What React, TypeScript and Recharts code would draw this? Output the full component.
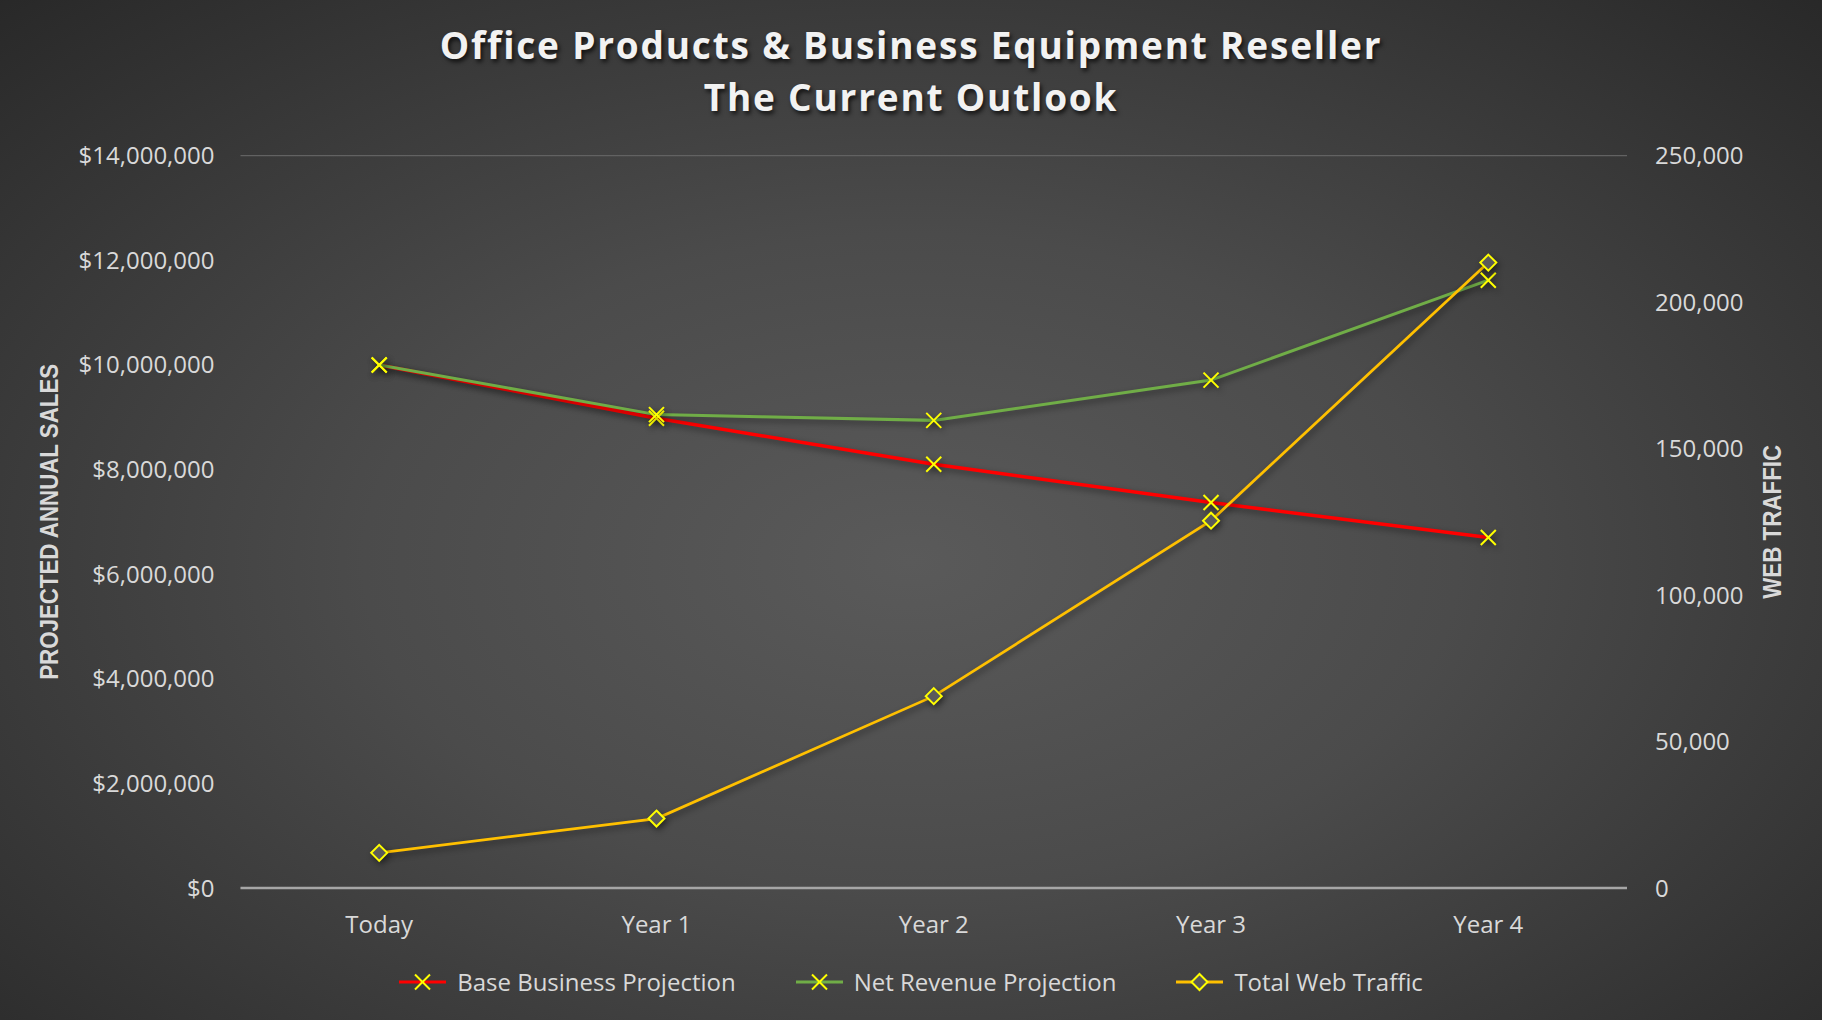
import React from 'react';
import {
  ComposedChart,
  Line,
  XAxis,
  YAxis,
  CartesianGrid,
  Label,
} from 'recharts';

const categories = ['Today', 'Year 1', 'Year 2', 'Year 3', 'Year 4'];
const baseBusiness = [10000000, 8980000, 8100000, 7370000, 6700000];
const netRevenue = [10000000, 9050000, 8940000, 9710000, 11620000];
const webTraffic = [12000, 23700, 65500, 125400, 213500];

const salesTicks = [0, 2000000, 4000000, 6000000, 8000000, 10000000, 12000000, 14000000];
const trafficTicks = [0, 50000, 100000, 150000, 200000, 250000];

const data = categories.map((name, i) => ({
  name,
  base: baseBusiness[i],
  net: netRevenue[i],
  web: webTraffic[i],
}));

const series = [
  { key: 'base', name: 'Base Business Projection', color: '#ff0000', width: 3.5, marker: 'x' },
  { key: 'net', name: 'Net Revenue Projection', color: '#70ad47', width: 3, marker: 'x' },
  { key: 'web', name: 'Total Web Traffic', color: '#ffc000', width: 2.75, marker: 'diamond' },
];

const MARKER = '#ffff00';
const TEXT = '#d9d9d9';
const FONT = '"Open Sans", sans-serif';

const XMark = ({ cx, cy }: any) => {
  if (cx == null || cy == null) return null;
  const r = 7.5;
  return (
    <g>
      <line x1={cx - r} y1={cy - r} x2={cx + r} y2={cy + r} stroke={MARKER} strokeWidth={2} />
      <line x1={cx - r} y1={cy + r} x2={cx + r} y2={cy - r} stroke={MARKER} strokeWidth={2} />
    </g>
  );
};

const Diamond = ({ cx, cy }: any) => {
  if (cx == null || cy == null) return null;
  const r = 8;
  return (
    <polygon
      points={`${cx},${cy - r} ${cx + r},${cy} ${cx},${cy + r} ${cx - r},${cy}`}
      fill="#5a5a5a"
      stroke={MARKER}
      strokeWidth={2}
    />
  );
};

const LegendIcon = ({ color, marker }: { color: string; marker: string }) => (
  <svg width={47} height={20} style={{ overflow: 'visible' }}>
    <line x1={0} y1={10} x2={47} y2={10} stroke={color} strokeWidth={3} />
    {marker === 'x' ? <XMark cx={23.5} cy={10} /> : <Diamond cx={23.5} cy={10} />}
  </svg>
);

const AxisTitle = ({ viewBox, value, dx, length }: any) => {
  const x = viewBox.x + dx;
  const y = viewBox.y + viewBox.height / 2;
  return (
    <text
      x={x}
      y={y}
      transform={`rotate(-90, ${x}, ${y})`}
      textAnchor="middle"
      dominantBaseline="central"
      fill={TEXT}
      fontFamily='"Liberation Sans Narrow", "Arial Narrow", sans-serif'
      fontWeight="bold"
      fontSize={25}
      textLength={length}
      lengthAdjust="spacingAndGlyphs"
    >
      {value}
    </text>
  );
};

export default function App() {
  return (
    <div
      style={{
        position: 'relative',
        width: 1822,
        height: 1020,
        overflow: 'hidden',
        background: 'radial-gradient(ellipse 75% 80% at 50% 55%, #5a5a5a 0%, #4b4b4b 40%, #262626 100%)',
        fontFamily: FONT,
      }}
    >
      <style>{`
        body { margin: 0; }
        .recharts-line-curve { filter: drop-shadow(2px 3px 3px rgba(0,0,0,0.45)); }
        .recharts-line-dots { filter: drop-shadow(2px 3px 3px rgba(0,0,0,0.45)); }
      `}</style>

      <div
        style={{
          position: 'absolute',
          top: 19,
          left: 0,
          width: 1822,
          textAlign: 'center',
          color: '#f2f2f2',
          fontWeight: 700,
          fontSize: 37,
          lineHeight: '52px',
          letterSpacing: 1.8,
          textShadow: '2px 3px 4px rgba(0,0,0,0.7)',
        }}
      >
        <div>Office Products &amp; Business Equipment Reseller</div>
        <div>The Current Outlook</div>
      </div>

      <ComposedChart
        width={1822}
        height={1020}
        data={data}
        margin={{ top: 155.7, right: 95, bottom: 72, left: 140.5 }}
      >
        <CartesianGrid vertical={false} stroke="#626262" strokeWidth={1.2} />
        <XAxis
          dataKey="name"
          height={60}
          padding={{ left: 138.7, right: 138.7 }}
          tickSize={0}
          tickMargin={28}
          axisLine={{ stroke: '#a6a6a6', strokeWidth: 2.5 }}
          tick={{ fill: TEXT, fontSize: 24, fontFamily: FONT }}
        />
        <YAxis
          yAxisId="sales"
          orientation="left"
          width={100}
          domain={[0, 14000000]}
          ticks={salesTicks}
          tickSize={0}
          tickMargin={26}
          axisLine={false}
          tick={{ fill: TEXT, fontSize: 24, fontFamily: FONT }}
          tickFormatter={(v: number) => '$' + v.toLocaleString('en-US')}
        >
          <Label content={(p: any) => <AxisTitle {...p} value="PROJECTED ANNUAL SALES" dx={-91.5} length={316} />} />
        </YAxis>
        <YAxis
          yAxisId="traffic"
          orientation="right"
          width={100}
          domain={[0, 250000]}
          ticks={trafficTicks}
          tickSize={0}
          tickMargin={28}
          axisLine={false}
          tick={{ fill: TEXT, fontSize: 24, fontFamily: FONT, textAnchor: 'start' }}
          tickFormatter={(v: number) => v.toLocaleString('en-US')}
        >
          <Label content={(p: any) => <AxisTitle {...p} value="WEB TRAFFIC" dx={145} length={154} />} />
        </YAxis>

        {series.map((s) => (
          <Line
            key={s.key}
            yAxisId={s.key === 'web' ? 'traffic' : 'sales'}
            dataKey={s.key}
            name={s.name}
            type="linear"
            stroke={s.color}
            strokeWidth={s.width}
            dot={(p: any) =>
              s.marker === 'x' ? <XMark key={`${s.key}-${p.index}`} {...p} /> : <Diamond key={`${s.key}-${p.index}`} {...p} />
            }
            activeDot={false}
            isAnimationActive={false}
          />
        ))}
      </ComposedChart>

      <div
        style={{
          position: 'absolute',
          top: 966,
          left: 0,
          width: 1822,
          display: 'flex',
          justifyContent: 'center',
          alignItems: 'center',
          gap: 60,
          color: TEXT,
          fontSize: 24,
          lineHeight: '32px',
        }}
      >
        {series.map((s) => (
          <div key={s.key} style={{ display: 'flex', alignItems: 'center' }}>
            <LegendIcon color={s.color} marker={s.marker} />
            <span style={{ marginLeft: 11 }}>{s.name}</span>
          </div>
        ))}
      </div>
    </div>
  );
}
